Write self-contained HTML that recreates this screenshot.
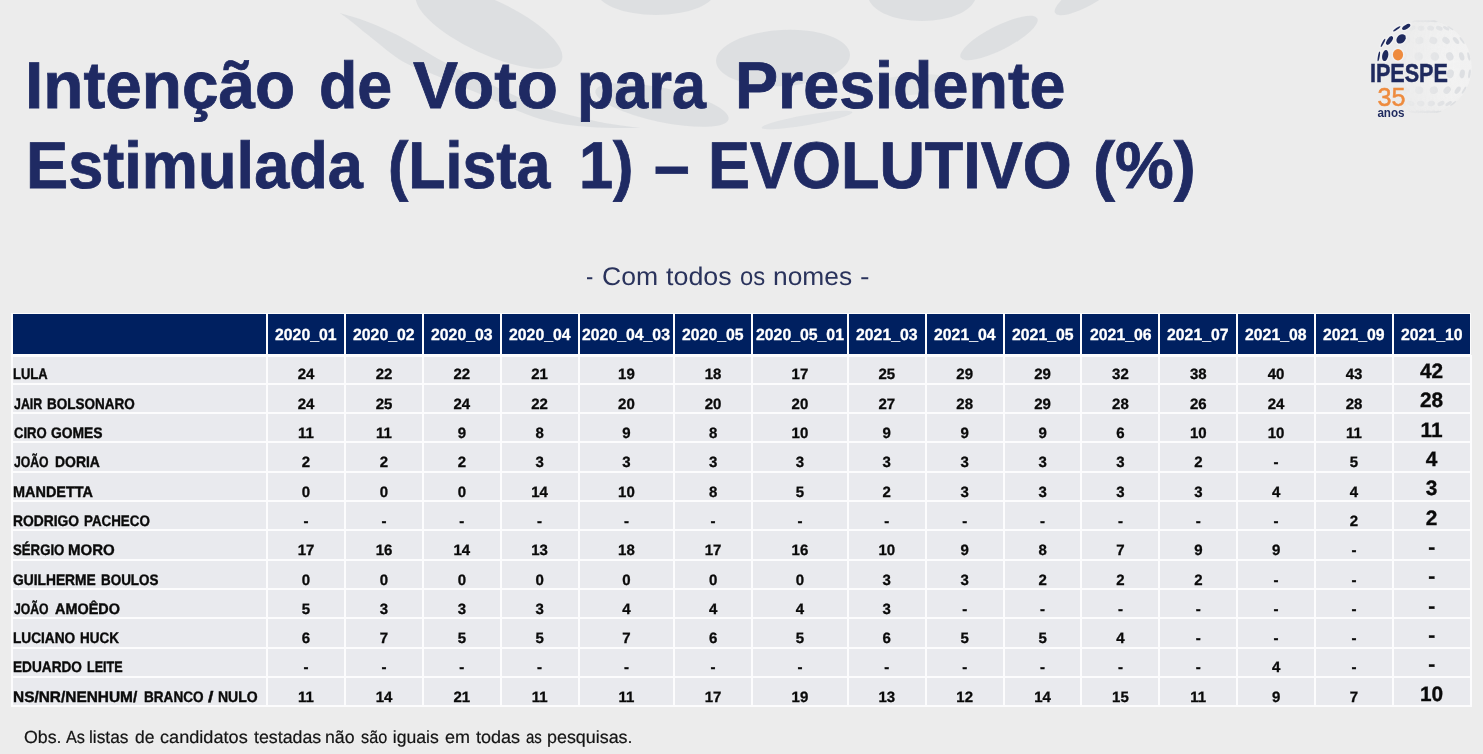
<!DOCTYPE html>
<html lang="pt-BR"><head><meta charset="utf-8"><title>Intenção de Voto para Presidente</title>
<style>
html,body{margin:0;padding:0}
body{width:1483px;height:754px;overflow:hidden;background:#ececec;position:relative;font-family:"Liberation Sans",sans-serif}
#page{position:absolute;left:0;top:0;width:1483px;height:754px;overflow:hidden;background:#ececec}
h1,p{margin:0;padding:0;font:inherit}
.x{position:absolute;white-space:pre;line-height:1;transform-origin:0 0;display:block;text-rendering:geometricPrecision}
.t{font-size:66px;font-weight:bold;color:#1f2a63;-webkit-text-stroke:0.8px #1f2a63}
.s{font-size:25.5px;color:#2a335c}
.o{font-size:17.6px;color:#141414;-webkit-text-stroke:0.2px #141414}
.h{font-size:16.2px;font-weight:bold;color:#fff;-webkit-text-stroke:0.3px #fff}
.n{font-size:15.2px;font-weight:bold;color:#0a0a0a;-webkit-text-stroke:0.4px #0a0a0a}
.v{font-size:15px;font-weight:bold;color:#0a0a0a;-webkit-text-stroke:0.3px #0a0a0a}
.v2{font-size:20.8px;font-weight:bold;color:#0a0a0a;-webkit-text-stroke:0.35px #0a0a0a}
table.tb{position:absolute;display:block;background:#fcfcfd;border-collapse:collapse;border-spacing:0;margin:0;padding:0}
.tb thead,.tb tbody,.tb tr{display:block;position:static;margin:0;padding:0}
.tb th,.tb td{position:absolute;display:block;margin:0;padding:0;border:0;font-weight:normal;text-align:left}
.rb{position:absolute;background:#fcfcfd}
.hc{background:#002060}
.bc{background:#e9eaee}
</style></head><body><div id="page">
<svg width="1483" height="160" viewBox="0 0 1483 160" style="position:absolute;left:0;top:0"><ellipse cx="489" cy="27" rx="80" ry="27" transform="rotate(25 489 27)" fill="#c4cbcf" fill-opacity="0.38"/><ellipse cx="656" cy="-10" rx="60" ry="25" transform="rotate(0 656 -10)" fill="#c4cbcf" fill-opacity="0.38"/><ellipse cx="783" cy="58" rx="67" ry="28" transform="rotate(-3 783 58)" fill="#c4cbcf" fill-opacity="0.38"/><ellipse cx="922" cy="-5" rx="54" ry="26" transform="rotate(0 922 -5)" fill="#c4cbcf" fill-opacity="0.38"/><ellipse cx="999" cy="38" rx="43" ry="12" transform="rotate(-27 999 38)" fill="#c4cbcf" fill-opacity="0.38"/><ellipse cx="1088" cy="-6" rx="38" ry="11" transform="rotate(-30 1088 -6)" fill="#c4cbcf" fill-opacity="0.38"/><ellipse cx="807" cy="120" rx="46" ry="5" transform="rotate(-9.7 807 120)" fill="#c4cbcf" fill-opacity="0.3"/><ellipse cx="910" cy="85" rx="44" ry="10" transform="rotate(-5 910 85)" fill="#c4cbcf" fill-opacity="0.22"/><path d="M340.0 13.0 C344.7 14.5 357.8 18.0 368.0 22.0 C378.2 26.0 388.5 30.4 401.0 37.0 C413.5 43.6 428.2 53.7 443.0 61.5 C457.8 69.3 473.8 76.6 490.0 84.0 C506.2 91.4 522.5 99.8 540.0 106.0 C557.5 112.2 578.3 117.3 595.0 121.0 C611.7 124.7 632.5 126.8 640.0 128.0L640.0 128.0 C631.7 127.8 606.7 128.5 590.0 127.0 C573.3 125.5 558.3 124.5 540.0 119.0 C521.7 113.5 497.7 101.4 480.0 94.0 C462.3 86.6 446.5 79.8 433.6 74.4 C420.7 69.0 413.3 67.7 402.8 61.5 C392.3 55.3 379.0 43.6 370.5 37.0 C362.0 30.4 357.1 26.0 352.0 22.0 C346.9 18.0 342.0 14.5 340.0 13.0 Z" fill="#c4cbcf" fill-opacity="0.38"/><ellipse cx="662" cy="105" rx="68" ry="17" transform="rotate(12 662 105)" fill="#c4cbcf" fill-opacity="0.38"/></svg>
<svg width="1483" height="140" viewBox="0 0 1483 140" style="position:absolute;left:0;top:0"><defs><radialGradient id="sg" cx="0.6" cy="0.48" r="0.55"><stop offset="0" stop-color="#f5f5f5" stop-opacity="0.85"/><stop offset="0.75" stop-color="#f3f3f3" stop-opacity="0.7"/><stop offset="1" stop-color="#efefef" stop-opacity="0.15"/></radialGradient><linearGradient id="fade" x1="0" x2="1" y1="0" y2="0"><stop offset="0" stop-color="#fff" stop-opacity="0"/><stop offset="0.3" stop-color="#fff" stop-opacity="0.1"/><stop offset="0.75" stop-color="#fff" stop-opacity="1"/></linearGradient><mask id="fm"><rect x="1370" y="10" width="113" height="120" fill="url(#fade)"/></mask></defs><circle cx="1424.7" cy="67" r="47" fill="url(#sg)" mask="url(#fm)"/><g fill="#d4d7dc" fill-opacity="0.7" mask="url(#fm)"><ellipse cx="1411.3" cy="111.8" rx="0.7" ry="3.0" transform="rotate(107 1411.3 111.8)"/><ellipse cx="1413.9" cy="111.8" rx="0.9" ry="3.0" transform="rotate(104 1413.9 111.8)"/><ellipse cx="1417.9" cy="111.8" rx="1.2" ry="3.0" transform="rotate(99 1417.9 111.8)"/><ellipse cx="1422.8" cy="111.8" rx="1.3" ry="3.0" transform="rotate(92 1422.8 111.8)"/><ellipse cx="1427.9" cy="111.8" rx="1.3" ry="3.0" transform="rotate(86 1427.9 111.8)"/><ellipse cx="1432.6" cy="111.8" rx="1.1" ry="3.0" transform="rotate(80 1432.6 111.8)"/><ellipse cx="1436.3" cy="111.8" rx="0.8" ry="3.0" transform="rotate(75 1436.3 111.8)"/><ellipse cx="1438.5" cy="111.8" rx="0.7" ry="3.0" transform="rotate(73 1438.5 111.8)"/><ellipse cx="1397.0" cy="103.5" rx="1.0" ry="3.7" transform="rotate(127 1397.0 103.5)"/><ellipse cx="1402.4" cy="103.5" rx="1.8" ry="3.7" transform="rotate(121 1402.4 103.5)"/><ellipse cx="1410.7" cy="103.5" rx="2.4" ry="3.7" transform="rotate(111 1410.7 103.5)"/><ellipse cx="1420.7" cy="103.5" rx="2.7" ry="3.7" transform="rotate(96 1420.7 103.5)"/><ellipse cx="1431.3" cy="103.5" rx="2.7" ry="3.7" transform="rotate(80 1431.3 103.5)"/><ellipse cx="1441.0" cy="103.5" rx="2.3" ry="3.7" transform="rotate(66 1441.0 103.5)"/><ellipse cx="1448.6" cy="103.5" rx="1.6" ry="3.7" transform="rotate(57 1448.6 103.5)"/><ellipse cx="1453.2" cy="103.5" rx="0.8" ry="3.7" transform="rotate(52 1453.2 103.5)"/><ellipse cx="1386.5" cy="90.2" rx="1.4" ry="4.1" transform="rotate(149 1386.5 90.2)"/><ellipse cx="1394.0" cy="90.2" rx="2.5" ry="4.1" transform="rotate(143 1394.0 90.2)"/><ellipse cx="1405.4" cy="90.2" rx="3.4" ry="4.1" transform="rotate(130 1405.4 90.2)"/><ellipse cx="1419.2" cy="90.2" rx="3.8" ry="4.1" transform="rotate(103 1419.2 90.2)"/><ellipse cx="1433.8" cy="90.2" rx="3.7" ry="4.1" transform="rotate(69 1433.8 90.2)"/><ellipse cx="1447.1" cy="90.2" rx="3.2" ry="4.1" transform="rotate(46 1447.1 90.2)"/><ellipse cx="1457.7" cy="90.2" rx="2.3" ry="4.1" transform="rotate(35 1457.7 90.2)"/><ellipse cx="1464.0" cy="90.2" rx="1.0" ry="4.1" transform="rotate(31 1464.0 90.2)"/><ellipse cx="1381.2" cy="73.8" rx="1.5" ry="4.4" transform="rotate(171 1381.2 73.8)"/><ellipse cx="1389.8" cy="73.8" rx="2.9" ry="4.4" transform="rotate(169 1389.8 73.8)"/><ellipse cx="1402.7" cy="73.8" rx="3.8" ry="4.4" transform="rotate(163 1402.7 73.8)"/><ellipse cx="1418.5" cy="73.8" rx="4.3" ry="4.4" transform="rotate(133 1418.5 73.8)"/><ellipse cx="1435.0" cy="73.8" rx="4.2" ry="4.4" transform="rotate(33 1435.0 73.8)"/><ellipse cx="1450.2" cy="73.8" rx="3.6" ry="4.4" transform="rotate(15 1450.2 73.8)"/><ellipse cx="1462.2" cy="73.8" rx="2.6" ry="4.4" transform="rotate(10 1462.2 73.8)"/><ellipse cx="1469.5" cy="73.8" rx="1.2" ry="4.4" transform="rotate(9 1469.5 73.8)"/><ellipse cx="1381.9" cy="56.4" rx="1.5" ry="4.3" transform="rotate(-166 1381.9 56.4)"/><ellipse cx="1390.3" cy="56.4" rx="2.8" ry="4.3" transform="rotate(-163 1390.3 56.4)"/><ellipse cx="1403.1" cy="56.4" rx="3.8" ry="4.3" transform="rotate(-154 1403.1 56.4)"/><ellipse cx="1418.6" cy="56.4" rx="4.2" ry="4.3" transform="rotate(-120 1418.6 56.4)"/><ellipse cx="1434.8" cy="56.4" rx="4.2" ry="4.3" transform="rotate(-46 1434.8 56.4)"/><ellipse cx="1449.8" cy="56.4" rx="3.6" ry="4.3" transform="rotate(-23 1449.8 56.4)"/><ellipse cx="1461.7" cy="56.4" rx="2.5" ry="4.3" transform="rotate(-16 1461.7 56.4)"/><ellipse cx="1468.8" cy="56.4" rx="1.2" ry="4.3" transform="rotate(-13 1468.8 56.4)"/><ellipse cx="1388.4" cy="40.5" rx="1.3" ry="4.1" transform="rotate(-144 1388.4 40.5)"/><ellipse cx="1395.5" cy="40.5" rx="2.4" ry="4.1" transform="rotate(-138 1395.5 40.5)"/><ellipse cx="1406.4" cy="40.5" rx="3.2" ry="4.1" transform="rotate(-125 1406.4 40.5)"/><ellipse cx="1419.5" cy="40.5" rx="3.6" ry="4.1" transform="rotate(-101 1419.5 40.5)"/><ellipse cx="1433.3" cy="40.5" rx="3.5" ry="4.1" transform="rotate(-72 1433.3 40.5)"/><ellipse cx="1446.0" cy="40.5" rx="3.0" ry="4.1" transform="rotate(-51 1446.0 40.5)"/><ellipse cx="1456.0" cy="40.5" rx="2.1" ry="4.1" transform="rotate(-40 1456.0 40.5)"/><ellipse cx="1462.1" cy="40.5" rx="1.0" ry="4.1" transform="rotate(-35 1462.1 40.5)"/><ellipse cx="1399.9" cy="28.2" rx="0.9" ry="3.5" transform="rotate(-123 1399.9 28.2)"/><ellipse cx="1404.8" cy="28.2" rx="1.6" ry="3.5" transform="rotate(-117 1404.8 28.2)"/><ellipse cx="1412.2" cy="28.2" rx="2.2" ry="3.5" transform="rotate(-108 1412.2 28.2)"/><ellipse cx="1421.1" cy="28.2" rx="2.5" ry="3.5" transform="rotate(-95 1421.1 28.2)"/><ellipse cx="1430.6" cy="28.2" rx="2.4" ry="3.5" transform="rotate(-81 1430.6 28.2)"/><ellipse cx="1439.3" cy="28.2" rx="2.1" ry="3.5" transform="rotate(-69 1439.3 28.2)"/><ellipse cx="1446.1" cy="28.2" rx="1.5" ry="3.5" transform="rotate(-61 1446.1 28.2)"/><ellipse cx="1450.3" cy="28.2" rx="0.7" ry="3.5" transform="rotate(-57 1450.3 28.2)"/><ellipse cx="1414.7" cy="21.2" rx="0.7" ry="2.9" transform="rotate(-102 1414.7 21.2)"/><ellipse cx="1416.7" cy="21.2" rx="0.7" ry="2.9" transform="rotate(-100 1416.7 21.2)"/><ellipse cx="1419.7" cy="21.2" rx="0.9" ry="2.9" transform="rotate(-96 1419.7 21.2)"/><ellipse cx="1423.3" cy="21.2" rx="1.0" ry="2.9" transform="rotate(-92 1423.3 21.2)"/><ellipse cx="1427.1" cy="21.2" rx="1.0" ry="2.9" transform="rotate(-87 1427.1 21.2)"/><ellipse cx="1430.5" cy="21.2" rx="0.8" ry="2.9" transform="rotate(-83 1430.5 21.2)"/><ellipse cx="1433.3" cy="21.2" rx="0.7" ry="2.9" transform="rotate(-79 1433.3 21.2)"/><ellipse cx="1435.0" cy="21.2" rx="0.7" ry="2.9" transform="rotate(-77 1435.0 21.2)"/></g><ellipse cx="1406.2" cy="26.9" rx="4.6" ry="2.0" transform="rotate(-30 1406.2 26.9)" fill="#1f2a5e" stroke="#f6f6f7" stroke-width="3" stroke-opacity="0.55" paint-order="stroke"/><ellipse cx="1396.8" cy="28.8" rx="4.3" ry="1.0" transform="rotate(-35 1396.8 28.8)" fill="#1f2a5e" stroke="#f6f6f7" stroke-width="3" stroke-opacity="0.55" paint-order="stroke"/><ellipse cx="1401.1" cy="38.9" rx="5.3" ry="4.0" transform="rotate(-45 1401.1 38.9)" fill="#1f2a5e" stroke="#f6f6f7" stroke-width="3" stroke-opacity="0.55" paint-order="stroke"/><ellipse cx="1389.5" cy="40.5" rx="5.0" ry="2.3" transform="rotate(-55 1389.5 40.5)" fill="#1f2a5e" stroke="#f6f6f7" stroke-width="3" stroke-opacity="0.55" paint-order="stroke"/><ellipse cx="1383" cy="42.8" rx="4.6" ry="0.9" transform="rotate(-62 1383 42.8)" fill="#1f2a5e" stroke="#f6f6f7" stroke-width="3" stroke-opacity="0.55" paint-order="stroke"/><ellipse cx="1385.2" cy="55.6" rx="5.6" ry="3.0" transform="rotate(-78 1385.2 55.6)" fill="#1f2a5e" stroke="#f6f6f7" stroke-width="3" stroke-opacity="0.55" paint-order="stroke"/><ellipse cx="1378.8" cy="56.4" rx="5.0" ry="0.9" transform="rotate(-80 1378.8 56.4)" fill="#1f2a5e" stroke="#f6f6f7" stroke-width="3" stroke-opacity="0.55" paint-order="stroke"/><ellipse cx="1398" cy="54.8" rx="5.1" ry="5.7" transform="rotate(0 1398 54.8)" fill="#ee8b3e" stroke="#f6f6f7" stroke-width="3" stroke-opacity="0.55" paint-order="stroke"/><text x="1369.9" y="81.7" font-family="Liberation Sans, sans-serif" font-weight="bold" font-size="26" fill="#1f2a5e" textLength="78" lengthAdjust="spacingAndGlyphs" stroke="#1f2a5e" stroke-width="0.5">IPESPE</text><text x="1377.6" y="105.6" font-family="Liberation Sans, sans-serif" font-size="26.5" fill="#ee8b3e" stroke="#ee8b3e" stroke-width="0.5" textLength="28" lengthAdjust="spacingAndGlyphs">35</text><text x="1377.4" y="117.2" font-family="Liberation Sans, sans-serif" font-weight="bold" font-size="12.4" fill="#1f2a5e" textLength="27.2" lengthAdjust="spacingAndGlyphs">anos</text></svg>
<h1><span class="x t" style="left:24.99px;top:52.10px;transform:scaleX(0.9955)">Intenção</span> <span class="x t" style="left:318.72px;top:52.10px;transform:scaleX(0.9499)">de</span> <span class="x t" style="left:412.91px;top:52.10px;transform:scaleX(1.0223)">Voto</span> <span class="x t" style="left:577.45px;top:52.10px;transform:scaleX(0.9252)">para</span> <span class="x t" style="left:734.75px;top:52.10px;transform:scaleX(0.9789)">Presidente</span>
<span class="x t" style="left:26.14px;top:132.10px;transform:scaleX(0.9570)">Estimulada</span> <span class="x t" style="left:387.71px;top:132.10px;transform:scaleX(0.9228)">(Lista</span> <span class="x t" style="left:578.94px;top:132.10px;transform:scaleX(0.9287)">1)</span> <span class="x t" style="left:653.59px;top:132.10px;transform:scaleX(0.9704)">–</span> <span class="x t" style="left:707.95px;top:132.10px;transform:scaleX(0.9537)">EVOLUTIVO</span> <span class="x t" style="left:1093.30px;top:132.10px;transform:scaleX(1.0024)">(%)</span></h1>
<p><span class="x s" style="left:585.52px;top:265.10px;transform:scaleX(0.8563)">-</span> <span class="x s" style="left:601.55px;top:265.10px;transform:scaleX(1.0424)">Com</span> <span class="x s" style="left:666.00px;top:265.10px;transform:scaleX(1.0522)">todos</span> <span class="x s" style="left:739.75px;top:265.10px;transform:scaleX(0.9353)">os</span> <span class="x s" style="left:773.35px;top:265.10px;transform:scaleX(1.0331)">nomes</span> <span class="x s" style="left:860.41px;top:265.10px;transform:scaleX(1.1220)">-</span></p>
<div class="rb" style="left:1471px;top:355px;width:1px;height:352px"></div>
<table class="tb" style="left:11px;top:313px;width:1460px;height:394px">
<thead><tr>
<th class="hc" style="left:2px;top:1px;width:253px;height:40px"></th>
<th class="hc" style="left:257px;top:1px;width:76px;height:40px"><span class="x h" style="left:7.19px;top:13.10px;transform:scaleX(0.9770)">2020_01</span></th>
<th class="hc" style="left:335px;top:1px;width:76px;height:40px"><span class="x h" style="left:7.19px;top:13.10px;transform:scaleX(0.9770)">2020_02</span></th>
<th class="hc" style="left:413px;top:1px;width:76px;height:40px"><span class="x h" style="left:6.99px;top:13.10px;transform:scaleX(0.9770)">2020_03</span></th>
<th class="hc" style="left:491px;top:1px;width:76px;height:40px"><span class="x h" style="left:6.79px;top:13.10px;transform:scaleX(0.9770)">2020_04</span></th>
<th class="hc" style="left:569px;top:1px;width:93px;height:40px"><span class="x h" style="left:2.39px;top:13.10px;transform:scaleX(0.9770)">2020_04_03</span></th>
<th class="hc" style="left:664px;top:1px;width:76px;height:40px"><span class="x h" style="left:7.29px;top:13.10px;transform:scaleX(0.9770)">2020_05</span></th>
<th class="hc" style="left:742px;top:1px;width:94px;height:40px"><span class="x h" style="left:2.89px;top:13.10px;transform:scaleX(0.9770)">2020_05_01</span></th>
<th class="hc" style="left:838px;top:1px;width:76px;height:40px"><span class="x h" style="left:6.94px;top:13.10px;transform:scaleX(0.9770)">2021_03</span></th>
<th class="hc" style="left:916px;top:1px;width:76px;height:40px"><span class="x h" style="left:6.84px;top:13.10px;transform:scaleX(0.9770)">2021_04</span></th>
<th class="hc" style="left:994px;top:1px;width:75px;height:40px"><span class="x h" style="left:6.74px;top:13.10px;transform:scaleX(0.9770)">2021_05</span></th>
<th class="hc" style="left:1071px;top:1px;width:76px;height:40px"><span class="x h" style="left:7.64px;top:13.10px;transform:scaleX(0.9770)">2021_06</span></th>
<th class="hc" style="left:1149px;top:1px;width:76px;height:40px"><span class="x h" style="left:7.49px;top:13.10px;transform:scaleX(0.9770)">2021_07</span></th>
<th class="hc" style="left:1227px;top:1px;width:76px;height:40px"><span class="x h" style="left:7.29px;top:13.10px;transform:scaleX(0.9770)">2021_08</span></th>
<th class="hc" style="left:1305px;top:1px;width:76px;height:40px"><span class="x h" style="left:7.19px;top:13.10px;transform:scaleX(0.9770)">2021_09</span></th>
<th class="hc" style="left:1383px;top:1px;width:76px;height:40px"><span class="x h" style="left:6.79px;top:13.10px;transform:scaleX(0.9770)">2021_10</span></th>
</tr></thead>
<tbody><tr>
<th class="bc" style="left:2px;top:44px;width:253px;height:26px"><span class="x n" style="left:0.26px;top:10.10px;transform:scaleX(0.8542)">LULA</span></th>
<td class="bc" style="left:257px;top:44px;width:76px;height:26px"><span class="x v" style="left:29.66px;top:10.10px">24</span></td>
<td class="bc" style="left:335px;top:44px;width:76px;height:26px"><span class="x v" style="left:29.66px;top:10.10px">22</span></td>
<td class="bc" style="left:413px;top:44px;width:76px;height:26px"><span class="x v" style="left:29.46px;top:10.10px">22</span></td>
<td class="bc" style="left:491px;top:44px;width:76px;height:26px"><span class="x v" style="left:29.26px;top:10.10px">21</span></td>
<td class="bc" style="left:569px;top:44px;width:93px;height:26px"><span class="x v" style="left:38.06px;top:10.10px">19</span></td>
<td class="bc" style="left:664px;top:44px;width:76px;height:26px"><span class="x v" style="left:29.76px;top:10.10px">18</span></td>
<td class="bc" style="left:742px;top:44px;width:94px;height:26px"><span class="x v" style="left:38.56px;top:10.10px">17</span></td>
<td class="bc" style="left:838px;top:44px;width:76px;height:26px"><span class="x v" style="left:29.41px;top:10.10px">25</span></td>
<td class="bc" style="left:916px;top:44px;width:76px;height:26px"><span class="x v" style="left:29.31px;top:10.10px">29</span></td>
<td class="bc" style="left:994px;top:44px;width:75px;height:26px"><span class="x v" style="left:29.21px;top:10.10px">29</span></td>
<td class="bc" style="left:1071px;top:44px;width:76px;height:26px"><span class="x v" style="left:30.11px;top:10.10px">32</span></td>
<td class="bc" style="left:1149px;top:44px;width:76px;height:26px"><span class="x v" style="left:29.96px;top:10.10px">38</span></td>
<td class="bc" style="left:1227px;top:44px;width:76px;height:26px"><span class="x v" style="left:29.76px;top:10.10px">40</span></td>
<td class="bc" style="left:1305px;top:44px;width:76px;height:26px"><span class="x v" style="left:29.66px;top:10.10px">43</span></td>
<td class="bc" style="left:1383px;top:44px;width:76px;height:26px"><span class="x v2" style="left:26.03px;top:5.10px">42</span></td>
</tr>
<tr>
<th class="bc" style="left:2px;top:72px;width:253px;height:27px"><span class="x n" style="left:0.66px;top:12.10px;transform:scaleX(0.8146)">JAIR</span> <span class="x n" style="left:33.73px;top:12.10px;transform:scaleX(0.8883)">BOLSONARO</span></th>
<td class="bc" style="left:257px;top:72px;width:76px;height:27px"><span class="x v" style="left:29.66px;top:12.10px">24</span></td>
<td class="bc" style="left:335px;top:72px;width:76px;height:27px"><span class="x v" style="left:29.66px;top:12.10px">25</span></td>
<td class="bc" style="left:413px;top:72px;width:76px;height:27px"><span class="x v" style="left:29.46px;top:12.10px">24</span></td>
<td class="bc" style="left:491px;top:72px;width:76px;height:27px"><span class="x v" style="left:29.26px;top:12.10px">22</span></td>
<td class="bc" style="left:569px;top:72px;width:93px;height:27px"><span class="x v" style="left:38.06px;top:12.10px">20</span></td>
<td class="bc" style="left:664px;top:72px;width:76px;height:27px"><span class="x v" style="left:29.76px;top:12.10px">20</span></td>
<td class="bc" style="left:742px;top:72px;width:94px;height:27px"><span class="x v" style="left:38.56px;top:12.10px">20</span></td>
<td class="bc" style="left:838px;top:72px;width:76px;height:27px"><span class="x v" style="left:29.41px;top:12.10px">27</span></td>
<td class="bc" style="left:916px;top:72px;width:76px;height:27px"><span class="x v" style="left:29.31px;top:12.10px">28</span></td>
<td class="bc" style="left:994px;top:72px;width:75px;height:27px"><span class="x v" style="left:29.21px;top:12.10px">29</span></td>
<td class="bc" style="left:1071px;top:72px;width:76px;height:27px"><span class="x v" style="left:30.11px;top:12.10px">28</span></td>
<td class="bc" style="left:1149px;top:72px;width:76px;height:27px"><span class="x v" style="left:29.96px;top:12.10px">26</span></td>
<td class="bc" style="left:1227px;top:72px;width:76px;height:27px"><span class="x v" style="left:29.76px;top:12.10px">24</span></td>
<td class="bc" style="left:1305px;top:72px;width:76px;height:27px"><span class="x v" style="left:29.66px;top:12.10px">28</span></td>
<td class="bc" style="left:1383px;top:72px;width:76px;height:27px"><span class="x v2" style="left:26.03px;top:6.10px">28</span></td>
</tr>
<tr>
<th class="bc" style="left:2px;top:101px;width:253px;height:27px"><span class="x n" style="left:0.66px;top:12.10px;transform:scaleX(0.8613)">CIRO</span> <span class="x n" style="left:38.05px;top:12.10px;transform:scaleX(0.9125)">GOMES</span></th>
<td class="bc" style="left:257px;top:101px;width:76px;height:27px"><span class="x v" style="left:30.07px;top:12.10px">11</span></td>
<td class="bc" style="left:335px;top:101px;width:76px;height:27px"><span class="x v" style="left:30.07px;top:12.10px">11</span></td>
<td class="bc" style="left:413px;top:101px;width:76px;height:27px"><span class="x v" style="left:33.63px;top:12.10px">9</span></td>
<td class="bc" style="left:491px;top:101px;width:76px;height:27px"><span class="x v" style="left:33.43px;top:12.10px">8</span></td>
<td class="bc" style="left:569px;top:101px;width:93px;height:27px"><span class="x v" style="left:42.23px;top:12.10px">9</span></td>
<td class="bc" style="left:664px;top:101px;width:76px;height:27px"><span class="x v" style="left:33.93px;top:12.10px">8</span></td>
<td class="bc" style="left:742px;top:101px;width:94px;height:27px"><span class="x v" style="left:38.56px;top:12.10px">10</span></td>
<td class="bc" style="left:838px;top:101px;width:76px;height:27px"><span class="x v" style="left:33.58px;top:12.10px">9</span></td>
<td class="bc" style="left:916px;top:101px;width:76px;height:27px"><span class="x v" style="left:33.48px;top:12.10px">9</span></td>
<td class="bc" style="left:994px;top:101px;width:75px;height:27px"><span class="x v" style="left:33.38px;top:12.10px">9</span></td>
<td class="bc" style="left:1071px;top:101px;width:76px;height:27px"><span class="x v" style="left:34.28px;top:12.10px">6</span></td>
<td class="bc" style="left:1149px;top:101px;width:76px;height:27px"><span class="x v" style="left:29.96px;top:12.10px">10</span></td>
<td class="bc" style="left:1227px;top:101px;width:76px;height:27px"><span class="x v" style="left:29.76px;top:12.10px">10</span></td>
<td class="bc" style="left:1305px;top:101px;width:76px;height:27px"><span class="x v" style="left:30.07px;top:12.10px">11</span></td>
<td class="bc" style="left:1383px;top:101px;width:76px;height:27px"><span class="x v2" style="left:26.61px;top:7.10px">11</span></td>
</tr>
<tr>
<th class="bc" style="left:2px;top:130px;width:253px;height:28px"><span class="x n" style="left:0.66px;top:12.10px;transform:scaleX(0.8037)">JOÃO</span> <span class="x n" style="left:42.01px;top:12.10px;transform:scaleX(0.9182)">DORIA</span></th>
<td class="bc" style="left:257px;top:130px;width:76px;height:28px"><span class="x v" style="left:33.83px;top:12.10px">2</span></td>
<td class="bc" style="left:335px;top:130px;width:76px;height:28px"><span class="x v" style="left:33.83px;top:12.10px">2</span></td>
<td class="bc" style="left:413px;top:130px;width:76px;height:28px"><span class="x v" style="left:33.63px;top:12.10px">2</span></td>
<td class="bc" style="left:491px;top:130px;width:76px;height:28px"><span class="x v" style="left:33.43px;top:12.10px">3</span></td>
<td class="bc" style="left:569px;top:130px;width:93px;height:28px"><span class="x v" style="left:42.23px;top:12.10px">3</span></td>
<td class="bc" style="left:664px;top:130px;width:76px;height:28px"><span class="x v" style="left:33.93px;top:12.10px">3</span></td>
<td class="bc" style="left:742px;top:130px;width:94px;height:28px"><span class="x v" style="left:42.73px;top:12.10px">3</span></td>
<td class="bc" style="left:838px;top:130px;width:76px;height:28px"><span class="x v" style="left:33.58px;top:12.10px">3</span></td>
<td class="bc" style="left:916px;top:130px;width:76px;height:28px"><span class="x v" style="left:33.48px;top:12.10px">3</span></td>
<td class="bc" style="left:994px;top:130px;width:75px;height:28px"><span class="x v" style="left:33.38px;top:12.10px">3</span></td>
<td class="bc" style="left:1071px;top:130px;width:76px;height:28px"><span class="x v" style="left:34.28px;top:12.10px">3</span></td>
<td class="bc" style="left:1149px;top:130px;width:76px;height:28px"><span class="x v" style="left:34.13px;top:12.10px">2</span></td>
<td class="bc" style="left:1227px;top:130px;width:76px;height:28px"><span class="x v" style="left:35.60px;top:12.10px">-</span></td>
<td class="bc" style="left:1305px;top:130px;width:76px;height:28px"><span class="x v" style="left:33.83px;top:12.10px">5</span></td>
<td class="bc" style="left:1383px;top:130px;width:76px;height:28px"><span class="x v2" style="left:31.82px;top:7.10px">4</span></td>
</tr>
<tr>
<th class="bc" style="left:2px;top:160px;width:253px;height:27px"><span class="x n" style="left:0.19px;top:12.10px;transform:scaleX(0.9507)">MANDETTA</span></th>
<td class="bc" style="left:257px;top:160px;width:76px;height:27px"><span class="x v" style="left:33.83px;top:12.10px">0</span></td>
<td class="bc" style="left:335px;top:160px;width:76px;height:27px"><span class="x v" style="left:33.83px;top:12.10px">0</span></td>
<td class="bc" style="left:413px;top:160px;width:76px;height:27px"><span class="x v" style="left:33.63px;top:12.10px">0</span></td>
<td class="bc" style="left:491px;top:160px;width:76px;height:27px"><span class="x v" style="left:29.26px;top:12.10px">14</span></td>
<td class="bc" style="left:569px;top:160px;width:93px;height:27px"><span class="x v" style="left:38.06px;top:12.10px">10</span></td>
<td class="bc" style="left:664px;top:160px;width:76px;height:27px"><span class="x v" style="left:33.93px;top:12.10px">8</span></td>
<td class="bc" style="left:742px;top:160px;width:94px;height:27px"><span class="x v" style="left:42.73px;top:12.10px">5</span></td>
<td class="bc" style="left:838px;top:160px;width:76px;height:27px"><span class="x v" style="left:33.58px;top:12.10px">2</span></td>
<td class="bc" style="left:916px;top:160px;width:76px;height:27px"><span class="x v" style="left:33.48px;top:12.10px">3</span></td>
<td class="bc" style="left:994px;top:160px;width:75px;height:27px"><span class="x v" style="left:33.38px;top:12.10px">3</span></td>
<td class="bc" style="left:1071px;top:160px;width:76px;height:27px"><span class="x v" style="left:34.28px;top:12.10px">3</span></td>
<td class="bc" style="left:1149px;top:160px;width:76px;height:27px"><span class="x v" style="left:34.13px;top:12.10px">3</span></td>
<td class="bc" style="left:1227px;top:160px;width:76px;height:27px"><span class="x v" style="left:33.93px;top:12.10px">4</span></td>
<td class="bc" style="left:1305px;top:160px;width:76px;height:27px"><span class="x v" style="left:33.83px;top:12.10px">4</span></td>
<td class="bc" style="left:1383px;top:160px;width:76px;height:27px"><span class="x v2" style="left:31.82px;top:6.10px">3</span></td>
</tr>
<tr>
<th class="bc" style="left:2px;top:189px;width:253px;height:27px"><span class="x n" style="left:0.22px;top:12.10px;transform:scaleX(0.9114)">RODRIGO</span> <span class="x n" style="left:70.94px;top:12.10px;transform:scaleX(0.8795)">PACHECO</span></th>
<td class="bc" style="left:257px;top:189px;width:76px;height:27px"><span class="x v" style="left:35.50px;top:12.10px">-</span></td>
<td class="bc" style="left:335px;top:189px;width:76px;height:27px"><span class="x v" style="left:35.50px;top:12.10px">-</span></td>
<td class="bc" style="left:413px;top:189px;width:76px;height:27px"><span class="x v" style="left:35.30px;top:12.10px">-</span></td>
<td class="bc" style="left:491px;top:189px;width:76px;height:27px"><span class="x v" style="left:35.10px;top:12.10px">-</span></td>
<td class="bc" style="left:569px;top:189px;width:93px;height:27px"><span class="x v" style="left:43.90px;top:12.10px">-</span></td>
<td class="bc" style="left:664px;top:189px;width:76px;height:27px"><span class="x v" style="left:35.60px;top:12.10px">-</span></td>
<td class="bc" style="left:742px;top:189px;width:94px;height:27px"><span class="x v" style="left:44.40px;top:12.10px">-</span></td>
<td class="bc" style="left:838px;top:189px;width:76px;height:27px"><span class="x v" style="left:35.25px;top:12.10px">-</span></td>
<td class="bc" style="left:916px;top:189px;width:76px;height:27px"><span class="x v" style="left:35.15px;top:12.10px">-</span></td>
<td class="bc" style="left:994px;top:189px;width:75px;height:27px"><span class="x v" style="left:35.05px;top:12.10px">-</span></td>
<td class="bc" style="left:1071px;top:189px;width:76px;height:27px"><span class="x v" style="left:35.95px;top:12.10px">-</span></td>
<td class="bc" style="left:1149px;top:189px;width:76px;height:27px"><span class="x v" style="left:35.80px;top:12.10px">-</span></td>
<td class="bc" style="left:1227px;top:189px;width:76px;height:27px"><span class="x v" style="left:35.60px;top:12.10px">-</span></td>
<td class="bc" style="left:1305px;top:189px;width:76px;height:27px"><span class="x v" style="left:33.83px;top:12.10px">2</span></td>
<td class="bc" style="left:1383px;top:189px;width:76px;height:27px"><span class="x v2" style="left:31.82px;top:7.10px">2</span></td>
</tr>
<tr>
<th class="bc" style="left:2px;top:218px;width:253px;height:28px"><span class="x n" style="left:0.47px;top:12.10px;transform:scaleX(0.8698)">SÉRGIO</span> <span class="x n" style="left:55.46px;top:12.10px;transform:scaleX(0.9890)">MORO</span></th>
<td class="bc" style="left:257px;top:218px;width:76px;height:28px"><span class="x v" style="left:29.66px;top:12.10px">17</span></td>
<td class="bc" style="left:335px;top:218px;width:76px;height:28px"><span class="x v" style="left:29.66px;top:12.10px">16</span></td>
<td class="bc" style="left:413px;top:218px;width:76px;height:28px"><span class="x v" style="left:29.46px;top:12.10px">14</span></td>
<td class="bc" style="left:491px;top:218px;width:76px;height:28px"><span class="x v" style="left:29.26px;top:12.10px">13</span></td>
<td class="bc" style="left:569px;top:218px;width:93px;height:28px"><span class="x v" style="left:38.06px;top:12.10px">18</span></td>
<td class="bc" style="left:664px;top:218px;width:76px;height:28px"><span class="x v" style="left:29.76px;top:12.10px">17</span></td>
<td class="bc" style="left:742px;top:218px;width:94px;height:28px"><span class="x v" style="left:38.56px;top:12.10px">16</span></td>
<td class="bc" style="left:838px;top:218px;width:76px;height:28px"><span class="x v" style="left:29.41px;top:12.10px">10</span></td>
<td class="bc" style="left:916px;top:218px;width:76px;height:28px"><span class="x v" style="left:33.48px;top:12.10px">9</span></td>
<td class="bc" style="left:994px;top:218px;width:75px;height:28px"><span class="x v" style="left:33.38px;top:12.10px">8</span></td>
<td class="bc" style="left:1071px;top:218px;width:76px;height:28px"><span class="x v" style="left:34.28px;top:12.10px">7</span></td>
<td class="bc" style="left:1149px;top:218px;width:76px;height:28px"><span class="x v" style="left:34.13px;top:12.10px">9</span></td>
<td class="bc" style="left:1227px;top:218px;width:76px;height:28px"><span class="x v" style="left:33.93px;top:12.10px">9</span></td>
<td class="bc" style="left:1305px;top:218px;width:76px;height:28px"><span class="x v" style="left:35.50px;top:12.10px">-</span></td>
<td class="bc" style="left:1383px;top:218px;width:76px;height:28px"><span class="x v2" style="left:34.14px;top:7.10px">-</span></td>
</tr>
<tr>
<th class="bc" style="left:2px;top:248px;width:253px;height:27px"><span class="x n" style="left:0.25px;top:12.10px;transform:scaleX(0.9082)">GUILHERME</span> <span class="x n" style="left:87.84px;top:12.10px;transform:scaleX(0.8849)">BOULOS</span></th>
<td class="bc" style="left:257px;top:248px;width:76px;height:27px"><span class="x v" style="left:33.83px;top:12.10px">0</span></td>
<td class="bc" style="left:335px;top:248px;width:76px;height:27px"><span class="x v" style="left:33.83px;top:12.10px">0</span></td>
<td class="bc" style="left:413px;top:248px;width:76px;height:27px"><span class="x v" style="left:33.63px;top:12.10px">0</span></td>
<td class="bc" style="left:491px;top:248px;width:76px;height:27px"><span class="x v" style="left:33.43px;top:12.10px">0</span></td>
<td class="bc" style="left:569px;top:248px;width:93px;height:27px"><span class="x v" style="left:42.23px;top:12.10px">0</span></td>
<td class="bc" style="left:664px;top:248px;width:76px;height:27px"><span class="x v" style="left:33.93px;top:12.10px">0</span></td>
<td class="bc" style="left:742px;top:248px;width:94px;height:27px"><span class="x v" style="left:42.73px;top:12.10px">0</span></td>
<td class="bc" style="left:838px;top:248px;width:76px;height:27px"><span class="x v" style="left:33.58px;top:12.10px">3</span></td>
<td class="bc" style="left:916px;top:248px;width:76px;height:27px"><span class="x v" style="left:33.48px;top:12.10px">3</span></td>
<td class="bc" style="left:994px;top:248px;width:75px;height:27px"><span class="x v" style="left:33.38px;top:12.10px">2</span></td>
<td class="bc" style="left:1071px;top:248px;width:76px;height:27px"><span class="x v" style="left:34.28px;top:12.10px">2</span></td>
<td class="bc" style="left:1149px;top:248px;width:76px;height:27px"><span class="x v" style="left:34.13px;top:12.10px">2</span></td>
<td class="bc" style="left:1227px;top:248px;width:76px;height:27px"><span class="x v" style="left:35.60px;top:12.10px">-</span></td>
<td class="bc" style="left:1305px;top:248px;width:76px;height:27px"><span class="x v" style="left:35.50px;top:12.10px">-</span></td>
<td class="bc" style="left:1383px;top:248px;width:76px;height:27px"><span class="x v2" style="left:34.14px;top:6.10px">-</span></td>
</tr>
<tr>
<th class="bc" style="left:2px;top:277px;width:253px;height:27px"><span class="x n" style="left:0.66px;top:12.10px;transform:scaleX(0.8037)">JOÃO</span> <span class="x n" style="left:42.26px;top:12.10px;transform:scaleX(0.9495)">AMOÊDO</span></th>
<td class="bc" style="left:257px;top:277px;width:76px;height:27px"><span class="x v" style="left:33.83px;top:12.10px">5</span></td>
<td class="bc" style="left:335px;top:277px;width:76px;height:27px"><span class="x v" style="left:33.83px;top:12.10px">3</span></td>
<td class="bc" style="left:413px;top:277px;width:76px;height:27px"><span class="x v" style="left:33.63px;top:12.10px">3</span></td>
<td class="bc" style="left:491px;top:277px;width:76px;height:27px"><span class="x v" style="left:33.43px;top:12.10px">3</span></td>
<td class="bc" style="left:569px;top:277px;width:93px;height:27px"><span class="x v" style="left:42.23px;top:12.10px">4</span></td>
<td class="bc" style="left:664px;top:277px;width:76px;height:27px"><span class="x v" style="left:33.93px;top:12.10px">4</span></td>
<td class="bc" style="left:742px;top:277px;width:94px;height:27px"><span class="x v" style="left:42.73px;top:12.10px">4</span></td>
<td class="bc" style="left:838px;top:277px;width:76px;height:27px"><span class="x v" style="left:33.58px;top:12.10px">3</span></td>
<td class="bc" style="left:916px;top:277px;width:76px;height:27px"><span class="x v" style="left:35.15px;top:12.10px">-</span></td>
<td class="bc" style="left:994px;top:277px;width:75px;height:27px"><span class="x v" style="left:35.05px;top:12.10px">-</span></td>
<td class="bc" style="left:1071px;top:277px;width:76px;height:27px"><span class="x v" style="left:35.95px;top:12.10px">-</span></td>
<td class="bc" style="left:1149px;top:277px;width:76px;height:27px"><span class="x v" style="left:35.80px;top:12.10px">-</span></td>
<td class="bc" style="left:1227px;top:277px;width:76px;height:27px"><span class="x v" style="left:35.60px;top:12.10px">-</span></td>
<td class="bc" style="left:1305px;top:277px;width:76px;height:27px"><span class="x v" style="left:35.50px;top:12.10px">-</span></td>
<td class="bc" style="left:1383px;top:277px;width:76px;height:27px"><span class="x v2" style="left:34.14px;top:7.10px">-</span></td>
</tr>
<tr>
<th class="bc" style="left:2px;top:306px;width:253px;height:28px"><span class="x n" style="left:0.23px;top:12.10px;transform:scaleX(0.8980)">LUCIANO</span> <span class="x n" style="left:66.93px;top:12.10px;transform:scaleX(0.8867)">HUCK</span></th>
<td class="bc" style="left:257px;top:306px;width:76px;height:28px"><span class="x v" style="left:33.83px;top:12.10px">6</span></td>
<td class="bc" style="left:335px;top:306px;width:76px;height:28px"><span class="x v" style="left:33.83px;top:12.10px">7</span></td>
<td class="bc" style="left:413px;top:306px;width:76px;height:28px"><span class="x v" style="left:33.63px;top:12.10px">5</span></td>
<td class="bc" style="left:491px;top:306px;width:76px;height:28px"><span class="x v" style="left:33.43px;top:12.10px">5</span></td>
<td class="bc" style="left:569px;top:306px;width:93px;height:28px"><span class="x v" style="left:42.23px;top:12.10px">7</span></td>
<td class="bc" style="left:664px;top:306px;width:76px;height:28px"><span class="x v" style="left:33.93px;top:12.10px">6</span></td>
<td class="bc" style="left:742px;top:306px;width:94px;height:28px"><span class="x v" style="left:42.73px;top:12.10px">5</span></td>
<td class="bc" style="left:838px;top:306px;width:76px;height:28px"><span class="x v" style="left:33.58px;top:12.10px">6</span></td>
<td class="bc" style="left:916px;top:306px;width:76px;height:28px"><span class="x v" style="left:33.48px;top:12.10px">5</span></td>
<td class="bc" style="left:994px;top:306px;width:75px;height:28px"><span class="x v" style="left:33.38px;top:12.10px">5</span></td>
<td class="bc" style="left:1071px;top:306px;width:76px;height:28px"><span class="x v" style="left:34.28px;top:12.10px">4</span></td>
<td class="bc" style="left:1149px;top:306px;width:76px;height:28px"><span class="x v" style="left:35.80px;top:12.10px">-</span></td>
<td class="bc" style="left:1227px;top:306px;width:76px;height:28px"><span class="x v" style="left:35.60px;top:12.10px">-</span></td>
<td class="bc" style="left:1305px;top:306px;width:76px;height:28px"><span class="x v" style="left:35.50px;top:12.10px">-</span></td>
<td class="bc" style="left:1383px;top:306px;width:76px;height:28px"><span class="x v2" style="left:34.14px;top:7.10px">-</span></td>
</tr>
<tr>
<th class="bc" style="left:2px;top:336px;width:253px;height:27px"><span class="x n" style="left:0.23px;top:11.10px;transform:scaleX(0.8976)">EDUARDO</span> <span class="x n" style="left:74.48px;top:11.10px;transform:scaleX(0.8286)">LEITE</span></th>
<td class="bc" style="left:257px;top:336px;width:76px;height:27px"><span class="x v" style="left:35.50px;top:11.10px">-</span></td>
<td class="bc" style="left:335px;top:336px;width:76px;height:27px"><span class="x v" style="left:35.50px;top:11.10px">-</span></td>
<td class="bc" style="left:413px;top:336px;width:76px;height:27px"><span class="x v" style="left:35.30px;top:11.10px">-</span></td>
<td class="bc" style="left:491px;top:336px;width:76px;height:27px"><span class="x v" style="left:35.10px;top:11.10px">-</span></td>
<td class="bc" style="left:569px;top:336px;width:93px;height:27px"><span class="x v" style="left:43.90px;top:11.10px">-</span></td>
<td class="bc" style="left:664px;top:336px;width:76px;height:27px"><span class="x v" style="left:35.60px;top:11.10px">-</span></td>
<td class="bc" style="left:742px;top:336px;width:94px;height:27px"><span class="x v" style="left:44.40px;top:11.10px">-</span></td>
<td class="bc" style="left:838px;top:336px;width:76px;height:27px"><span class="x v" style="left:35.25px;top:11.10px">-</span></td>
<td class="bc" style="left:916px;top:336px;width:76px;height:27px"><span class="x v" style="left:35.15px;top:11.10px">-</span></td>
<td class="bc" style="left:994px;top:336px;width:75px;height:27px"><span class="x v" style="left:35.05px;top:11.10px">-</span></td>
<td class="bc" style="left:1071px;top:336px;width:76px;height:27px"><span class="x v" style="left:35.95px;top:11.10px">-</span></td>
<td class="bc" style="left:1149px;top:336px;width:76px;height:27px"><span class="x v" style="left:35.80px;top:11.10px">-</span></td>
<td class="bc" style="left:1227px;top:336px;width:76px;height:27px"><span class="x v" style="left:33.93px;top:11.10px">4</span></td>
<td class="bc" style="left:1305px;top:336px;width:76px;height:27px"><span class="x v" style="left:35.50px;top:11.10px">-</span></td>
<td class="bc" style="left:1383px;top:336px;width:76px;height:27px"><span class="x v2" style="left:34.14px;top:6.10px">-</span></td>
</tr>
<tr>
<th class="bc" style="left:2px;top:365px;width:253px;height:27px"><span class="x n" style="left:-0.26px;top:12.10px;transform:scaleX(1.0152)">NS/NR/NENHUM/</span> <span class="x n" style="left:130.53px;top:12.10px;transform:scaleX(0.8930)">BRANCO</span> <span class="x n" style="left:195.16px;top:12.10px;transform:scaleX(1.2834)">/</span> <span class="x n" style="left:205.21px;top:12.10px;transform:scaleX(0.9219)">NULO</span></th>
<td class="bc" style="left:257px;top:365px;width:76px;height:27px"><span class="x v" style="left:30.07px;top:12.10px">11</span></td>
<td class="bc" style="left:335px;top:365px;width:76px;height:27px"><span class="x v" style="left:29.66px;top:12.10px">14</span></td>
<td class="bc" style="left:413px;top:365px;width:76px;height:27px"><span class="x v" style="left:29.46px;top:12.10px">21</span></td>
<td class="bc" style="left:491px;top:365px;width:76px;height:27px"><span class="x v" style="left:29.67px;top:12.10px">11</span></td>
<td class="bc" style="left:569px;top:365px;width:93px;height:27px"><span class="x v" style="left:38.47px;top:12.10px">11</span></td>
<td class="bc" style="left:664px;top:365px;width:76px;height:27px"><span class="x v" style="left:29.76px;top:12.10px">17</span></td>
<td class="bc" style="left:742px;top:365px;width:94px;height:27px"><span class="x v" style="left:38.56px;top:12.10px">19</span></td>
<td class="bc" style="left:838px;top:365px;width:76px;height:27px"><span class="x v" style="left:29.41px;top:12.10px">13</span></td>
<td class="bc" style="left:916px;top:365px;width:76px;height:27px"><span class="x v" style="left:29.31px;top:12.10px">12</span></td>
<td class="bc" style="left:994px;top:365px;width:75px;height:27px"><span class="x v" style="left:29.21px;top:12.10px">14</span></td>
<td class="bc" style="left:1071px;top:365px;width:76px;height:27px"><span class="x v" style="left:30.11px;top:12.10px">15</span></td>
<td class="bc" style="left:1149px;top:365px;width:76px;height:27px"><span class="x v" style="left:30.37px;top:12.10px">11</span></td>
<td class="bc" style="left:1227px;top:365px;width:76px;height:27px"><span class="x v" style="left:33.93px;top:12.10px">9</span></td>
<td class="bc" style="left:1305px;top:365px;width:76px;height:27px"><span class="x v" style="left:33.83px;top:12.10px">7</span></td>
<td class="bc" style="left:1383px;top:365px;width:76px;height:27px"><span class="x v2" style="left:26.03px;top:7.10px">10</span></td>
</tr>
</tbody></table>
<p><span class="x o" style="left:23.97px;top:729.10px;transform:scaleX(1.0099)">Obs.</span> <span class="x o" style="left:65.79px;top:729.10px;transform:scaleX(0.9262)">As</span> <span class="x o" style="left:89.32px;top:729.10px;transform:scaleX(0.9832)">listas</span> <span class="x o" style="left:135.35px;top:729.10px;transform:scaleX(0.9939)">de</span> <span class="x o" style="left:160.14px;top:729.10px;transform:scaleX(1.0305)">candidatos</span> <span class="x o" style="left:253.50px;top:729.10px;transform:scaleX(1.0108)">testadas</span> <span class="x o" style="left:325.49px;top:729.10px;transform:scaleX(1.0090)">não</span> <span class="x o" style="left:361.24px;top:729.10px;transform:scaleX(0.9243)">são</span> <span class="x o" style="left:392.80px;top:729.10px">iguais</span> <span class="x o" style="left:444.74px;top:729.10px;transform:scaleX(1.0221)">em</span> <span class="x o" style="left:475.90px;top:729.10px;transform:scaleX(1.0256)">todas</span> <span class="x o" style="left:525.72px;top:729.10px;transform:scaleX(0.8537)">as</span> <span class="x o" style="left:546.68px;top:729.10px;transform:scaleX(1.0165)">pesquisas.</span></p>
</div></body></html>
